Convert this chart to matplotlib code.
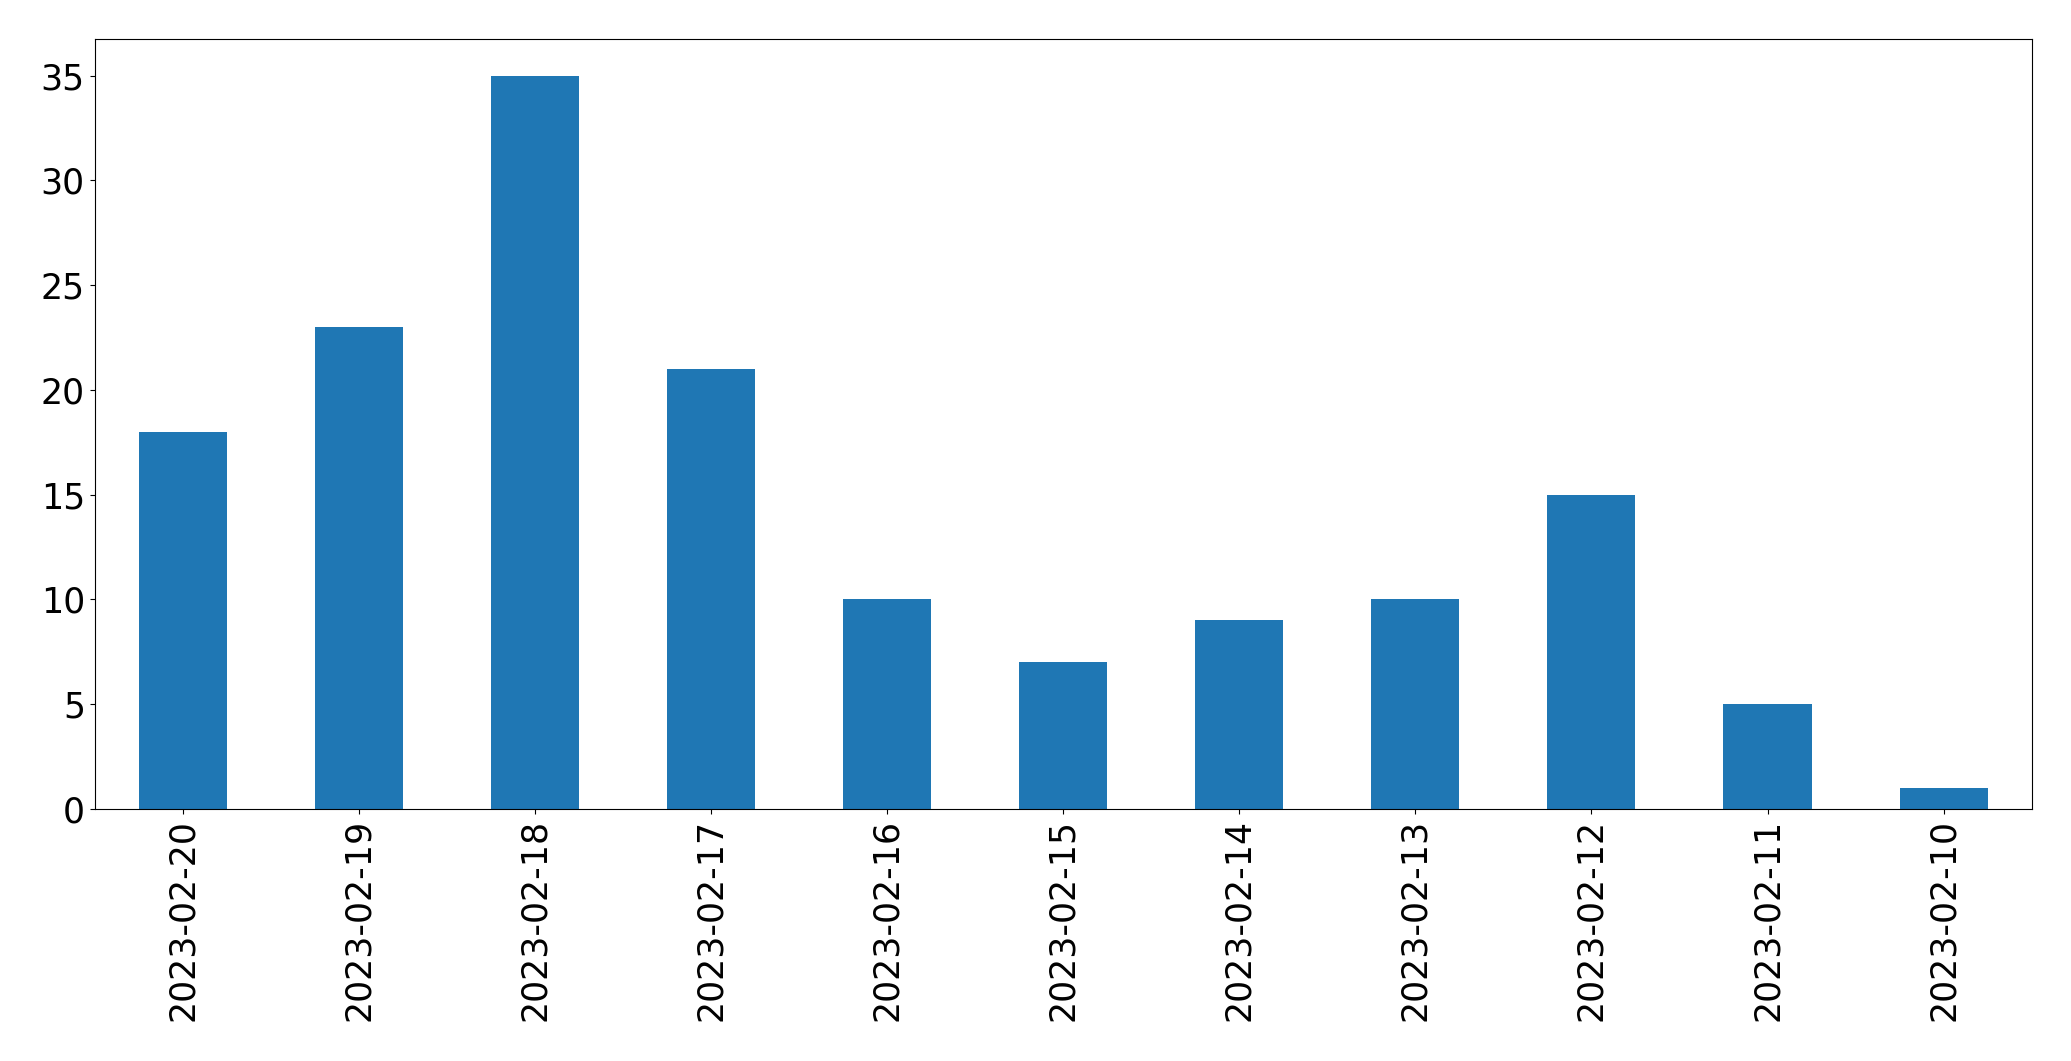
import pandas as pd
import matplotlib
matplotlib.use('Agg')
import matplotlib.pyplot as plt

dates = ['2023-02-20', '2023-02-19', '2023-02-18', '2023-02-17', '2023-02-16',
         '2023-02-15', '2023-02-14', '2023-02-13', '2023-02-12', '2023-02-11',
         '2023-02-10']
counts = [18, 23, 35, 21, 10, 7, 9, 10, 15, 5, 1]

s = pd.Series(counts, index=dates)

fig = plt.figure(dpi=100, figsize=(20.71, 10.61))
ax = fig.add_axes([0.0457, 0.2375, 0.9353, 0.7257])
s.plot.bar(ax=ax, color='#1f77b4')
ax.tick_params(axis='both', labelsize=25)
plt.savefig('out.png')
